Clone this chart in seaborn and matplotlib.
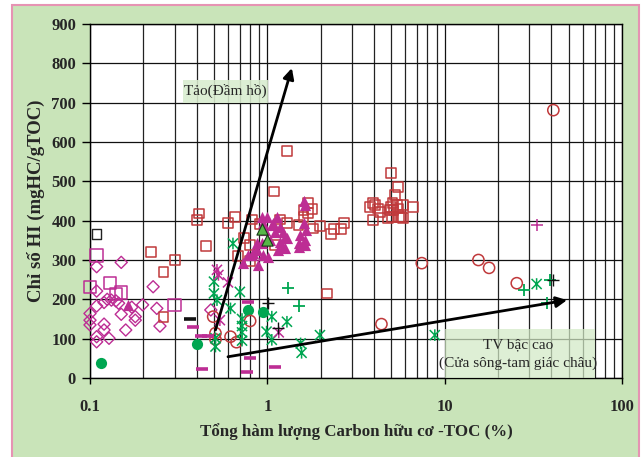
import numpy as np
import pandas as pd
import matplotlib
matplotlib.use("Agg")
import matplotlib.pyplot as plt
import seaborn as sns
from matplotlib.path import Path
from matplotlib.patches import Rectangle

# ---------------- data ----------------
red_sq_x = [0.22, 0.30, 0.26, 0.26, 0.40, 0.41, 0.45, 0.60, 0.66, 0.74, 0.80, 0.68, 0.80, 0.82, 0.91,
            1.09, 1.10, 1.18, 1.29, 1.29, 1.50, 1.60, 1.60, 1.70, 1.70, 1.78, 1.80, 1.98, 2.28, 2.38,
            2.60, 2.70, 2.18, 3.80, 3.96, 4.05, 4.23, 4.30, 3.96, 4.97, 5.44, 5.25, 4.97, 5.14, 5.03,
            5.48, 5.50, 5.85, 6.60, 5.70, 5.08, 5.80, 4.81, 5.40, 4.90]
red_sq_y = [320, 300, 270, 156, 402, 418, 335, 395, 410, 355, 338, 310, 298, 403, 391,
            474, 338, 403, 395, 578, 389, 427, 410, 444, 419, 430, 380, 386, 366, 378,
            378, 395, 215, 434, 444, 440, 431, 423, 402, 522, 485, 465, 435, 427, 410,
            431, 410, 440, 435, 410, 444, 406, 406, 440, 427]

black_sq_x = [0.109]
black_sq_y = [366]

mag_sq_x = [0.109, 0.100, 0.130, 0.140, 0.150, 0.300]
mag_sq_y = [311, 232, 241, 214, 217, 186]

mag_dia_x = [0.109, 0.15, 0.109, 0.227, 0.109, 0.132, 0.14, 0.125, 0.145, 0.12, 0.15, 0.172, 0.18,
             0.18, 0.198, 0.238, 0.248, 0.159, 0.12, 0.12, 0.128, 0.109, 0.109, 0.10, 0.10, 0.10, 0.48]
mag_dia_y = [283, 294, 221, 232, 183, 198, 196, 200, 190, 192, 162, 180, 156,
             147, 186, 177, 132, 122, 137, 122, 101, 105, 92, 164, 147, 135, 173]

mag_tri_x = [0.164, 0.93, 1.00, 1.13, 1.06, 1.18, 0.97, 1.10, 1.23, 1.29, 1.03, 1.18, 0.93, 0.87,
             0.95, 0.82, 0.73, 0.89, 1.25, 1.15, 1.61, 1.64, 1.53, 1.50, 1.66, 1.01, 1.08, 0.95,
             0.87, 0.83, 0.78, 1.60, 1.64, 1.64, 1.26, 1.23, 1.50]
mag_tri_y = [185, 410, 410, 410, 389, 385, 376, 372, 372, 355, 351, 346, 342, 325,
             313, 313, 292, 287, 330, 325, 451, 440, 363, 342, 376, 308, 393, 393,
             342, 317, 313, 393, 351, 338, 359, 334, 334]

green_tri_x = [0.93, 1.00]
green_tri_y = [380, 350]

green_circ_x = [0.115, 0.40, 0.78, 0.95]
green_circ_y = [37, 86, 173, 167]

red_circ_x = [0.495, 0.51, 0.51, 0.62, 0.67, 0.80, 4.4, 7.43, 15.5, 17.8, 25.5, 41.0]
red_circ_y = [156, 114, 98, 105, 91, 145, 137, 292, 300, 280, 241, 681]

green_star_x = [0.50, 0.50, 0.52, 0.62, 0.70, 0.72, 0.72, 0.72, 0.72, 0.51, 1.06, 0.99, 1.06,
                1.29, 0.51, 0.64, 1.54, 1.56, 1.98, 8.8, 33.0]
green_star_y = [245, 215, 198, 177, 219, 150, 132, 116, 95, 80, 156, 118, 97,
                143, 101, 342, 88, 64, 109, 109, 239]

green_plus_x = [1.31, 1.50, 28.0, 37.6, 39.3]
green_plus_y = [228, 183, 225, 190, 249]

black_plus_x = [1.01, 1.15, 41.0]
black_plus_y = [190, 126, 248]

mag_star_x = [0.52, 0.53, 0.60, 0.54, 1.16]
mag_star_y = [275, 262, 243, 147, 116]

mag_plus_x = [33.0]
mag_plus_y = [389]

mag_dash_x = [0.38, 0.43, 0.42, 0.46, 0.78, 0.80, 0.77, 1.10]
mag_dash_y = [130, 24, 107, 107, 194, 50, 16, 29]

black_dash_x = [0.367]
black_dash_y = [150]

x_ticks = [0.1, 1, 10, 100]
x_tick_labels = ["0.1", "1", "10", "100"]
y_ticks = [0, 100, 200, 300, 400, 500, 600, 700, 800, 900]

x_label = "Tổng hàm lượng Carbon hữu cơ -TOC (%)"
y_label = "Chỉ số HI (mgHC/gTOC)"
label_algae = "Tảo(Đầm hồ)"
label_tv = "TV bậc cao\n(Cửa sông-tam giác châu)"
arrow_algae = [(0.51, 122), (1.375, 788)]
arrow_tv = [(0.60, 54), (49.0, 198)]

# ---------------- style ----------------
sns.set_style("white")
plt.rcParams["font.family"] = ["Liberation Serif", "DejaVu Serif"]

RED = "#c0393b"
MAG = "#bd2d94"
GRN = "#00a651"

fig = plt.figure(figsize=(6.41, 4.57), dpi=100)
fig.patch.set_facecolor("white")
fig.add_artist(Rectangle((12 / 641, -0.02), (639 - 12) / 641, 1 - 5 / 457 + 0.02,
                         transform=fig.transFigure, facecolor="#c9e4b9",
                         edgecolor="#e693b3", linewidth=1.5, zorder=0))
ax = fig.add_axes([90 / 641, 1 - 378 / 457, 532 / 641, 354 / 457])
ax.set_facecolor("white")

asterisk = Path([(-1, -1), (1, 1), (-1, 1), (1, -1), (0, -1.15), (0, 1.15)],
                [Path.MOVETO, Path.LINETO] * 3)


def open_marker(xs, ys, marker, s, col, lw=1.0, z=3):
    sns.scatterplot(x=xs, y=ys, marker=marker, s=s, facecolors="none", edgecolor=col,
                    linewidth=lw, ax=ax, zorder=z, clip_on=False, legend=False)


def filled_marker(xs, ys, marker, s, col, ec=None, lw=0.0, z=3):
    sns.scatterplot(x=xs, y=ys, marker=marker, s=s, color=col,
                    edgecolor=ec if ec else col, linewidth=lw, ax=ax, zorder=z,
                    clip_on=False, legend=False)


def line_marker(xs, ys, marker, s, col, lw=1.0, z=3):
    sns.scatterplot(x=xs, y=ys, marker=marker, s=s, color=col, linewidth=lw,
                    ax=ax, zorder=z, clip_on=False, legend=False)


open_marker(mag_dia_x, mag_dia_y, "D", 38, MAG, 1.0)
open_marker(red_sq_x, red_sq_y, "s", 50, RED, 1.1)
open_marker(black_sq_x, black_sq_y, "s", 45, "#222222", 1.0)
open_marker(mag_sq_x, mag_sq_y, "s", 80, MAG, 1.1)
filled_marker(mag_tri_x, mag_tri_y, "^", 65, MAG)
filled_marker(green_tri_x, green_tri_y, "^", 65, "#57b848", ec="#1a3a1a", lw=0.8, z=4)
filled_marker(green_circ_x, green_circ_y, "o", 65, GRN)
open_marker(red_circ_x, red_circ_y, "o", 65, RED, 1.1)
open_marker(green_star_x, green_star_y, asterisk, 70, GRN, 1.1)
open_marker(mag_star_x, mag_star_y, asterisk, 70, MAG, 1.1)
line_marker(green_plus_x, green_plus_y, "+", 70, GRN, 1.3)
line_marker(black_plus_x, black_plus_y, "+", 70, "#111111", 1.0)
line_marker(mag_plus_x, mag_plus_y, "+", 70, MAG, 1.1)
line_marker(mag_dash_x, mag_dash_y, "_", 70, MAG, 2.6)
line_marker(black_dash_x, black_dash_y, "_", 70, "#111111", 2.6)

# arrows
for (start, end) in (arrow_algae, arrow_tv):
    ax.annotate("", xy=end, xytext=start,
                arrowprops=dict(arrowstyle="-|>", color="black", lw=2.0,
                                mutation_scale=16, shrinkA=0, shrinkB=0),
                zorder=5)

# annotation boxes
ax.add_patch(Rectangle((0.335, 700), 1.01 - 0.335, 57, facecolor="#d8ecce",
                       edgecolor="none", alpha=0.88, zorder=6))
ax.text(0.58, 729, label_algae, ha="center", va="center", fontsize=11, zorder=7)
ax.add_patch(Rectangle((10.0, 0), 70.0 - 10.0, 125, facecolor="#d2e9c5",
                       edgecolor="none", alpha=0.72, zorder=6, clip_on=False))
ax.text(26.0, 60, label_tv, ha="center", va="center", fontsize=11, zorder=7,
        linespacing=1.45)

# axes
ax.set_xscale("log")
ax.set_xlim(0.1, 100)
ax.set_ylim(0, 900)
ax.set_xticks(x_ticks)
ax.set_xticklabels(x_tick_labels)
ax.set_yticks(y_ticks)
ax.grid(True, which="major", color="#111111", linewidth=0.9, zorder=1)
ax.grid(True, which="minor", axis="x", color="#222222", linewidth=0.9, zorder=1)
ax.set_axisbelow(True)
for sp in ax.spines.values():
    sp.set_color("black")
    sp.set_linewidth(1.0)

ax.tick_params(axis="y", which="major", direction="out", length=6, width=1, color="black",
               left=True, labelsize=12, pad=4)
ax.tick_params(axis="x", which="major", direction="out", length=4, width=1, color="black",
               bottom=True, labelsize=12, pad=11)
ax.tick_params(axis="x", which="minor", length=0)
for lab in ax.get_xticklabels() + ax.get_yticklabels():
    lab.set_fontweight("bold")

ax.set_xlabel(x_label, fontsize=12.2, fontweight="bold")
ax.set_ylabel(y_label, fontsize=13.5, fontweight="bold")
ax.xaxis.set_label_coords(0.5, -0.128)
ax.yaxis.set_label_coords(-0.085, 0.5)

fig.savefig("out.png", dpi=100, facecolor=fig.get_facecolor())
